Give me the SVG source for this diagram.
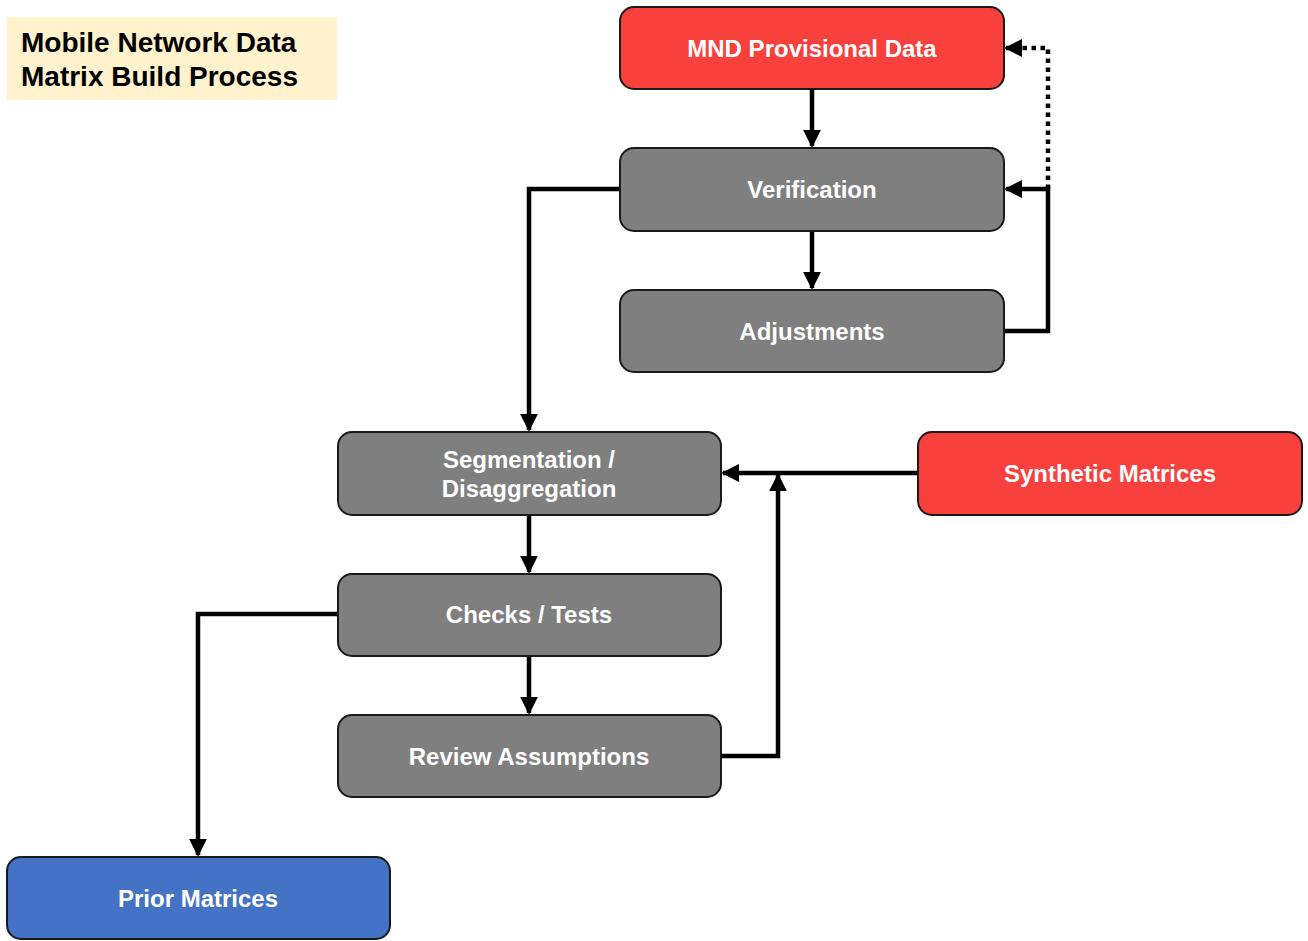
<svg xmlns="http://www.w3.org/2000/svg" width="1308" height="941" viewBox="0 0 1308 941">
<defs>
<marker id="ah" markerWidth="4" markerHeight="4" refX="3.6" refY="2" orient="auto" markerUnits="strokeWidth">
<path d="M0,0 L4,2 L0,4 Z" fill="#000"/>
</marker>
<style>
.node rect{stroke:#1a1a1a;stroke-width:2}
.red rect{fill:#F8403C}
.grey rect{fill:#7F7F7F}
.blue rect{fill:#4472C4}
.node text{font-family:"Liberation Sans",Arial,sans-serif;font-weight:bold;font-size:24px;fill:#fff;text-anchor:middle}
.conn path{fill:none;stroke:#000;stroke-width:4.5}
.arrow{marker-end:url(#ah)}
.dot{stroke-dasharray:4.5 4.5}
.title text{font-family:"Liberation Sans",Arial,sans-serif;font-weight:bold;font-size:28px;fill:#000}
</style>
</defs>
<rect width="1308" height="941" fill="#fff"/>
<g id="title" class="title">
<rect x="7" y="17" width="330" height="83" fill="#FFF2CC"/>
<text x="21" y="52">Mobile Network Data</text>
<text x="21" y="86">Matrix Build Process</text>
</g>
<g id="connectors" class="conn">
<path class="arrow" d="M812,89 V146"/>
<path class="arrow" d="M812,231 V288"/>
<path class="arrow" d="M1004,331 H1048 V189 H1006"/>
<path class="arrow dot" d="M1048,189 V48 H1006"/>
<path class="arrow" d="M620,189 H529 V430"/>
<path class="arrow" d="M918,473 H723"/>
<path class="arrow" d="M721,756 H778 V475"/>
<path class="arrow" d="M529,515 V572"/>
<path class="arrow" d="M529,656 V713"/>
<path class="arrow" d="M338,614 H198 V855"/>
</g>
<g id="mnd" class="node red"><rect x="620" y="7" width="384" height="82" rx="14"/><text x="812" y="57">MND Provisional Data</text></g>
<g id="verification" class="node grey"><rect x="620" y="148" width="384" height="83" rx="14"/><text x="812" y="198">Verification</text></g>
<g id="adjustments" class="node grey"><rect x="620" y="290" width="384" height="82" rx="14"/><text x="812" y="340">Adjustments</text></g>
<g id="segmentation" class="node grey"><rect x="338" y="432" width="383" height="83" rx="14"/><text x="529" y="468">Segmentation /</text><text x="529" y="497">Disaggregation</text></g>
<g id="synthetic" class="node red"><rect x="918" y="432" width="384" height="83" rx="14"/><text x="1110" y="482">Synthetic Matrices</text></g>
<g id="checks" class="node grey"><rect x="338" y="574" width="383" height="82" rx="14"/><text x="529" y="623">Checks / Tests</text></g>
<g id="review" class="node grey"><rect x="338" y="715" width="383" height="82" rx="14"/><text x="529" y="765">Review Assumptions</text></g>
<g id="prior" class="node blue"><rect x="7" y="857" width="383" height="82" rx="14"/><text x="198" y="907">Prior Matrices</text></g>
</svg>
